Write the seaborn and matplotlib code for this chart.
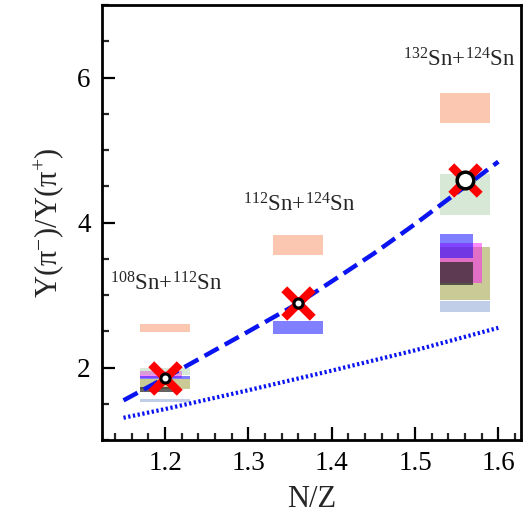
import numpy as np
import pandas as pd
import matplotlib
matplotlib.use("Agg")
import matplotlib.pyplot as plt
import seaborn as sns

# ---------------- data ----------------
systems = [r"$^{108}$Sn+$^{112}$Sn", r"$^{112}$Sn+$^{124}$Sn", r"$^{132}$Sn+$^{124}$Sn"]
nz = [1.20, 1.36, 1.56]
exp_ratio = [1.86, 2.89, 4.59]

dash_x = [1.15, 1.20, 1.25, 1.30, 1.36, 1.40, 1.45, 1.50, 1.55, 1.60]
dash_y = [1.55, 1.86, 2.18, 2.50, 2.89, 3.19, 3.57, 3.98, 4.41, 4.84]
dot_x = [1.15, 1.20, 1.30, 1.40, 1.50, 1.60]
dot_y = [1.31, 1.43, 1.69, 1.96, 2.24, 2.55]

# model bands: (N/Z, low, high)
band_lightblue = {"x": [1.20, 1.56], "lo": [1.53, 2.77], "hi": [1.57, 2.92]}
band_olive = {"x": [1.20, 1.56], "lo": [1.70, 2.94], "hi": [1.84, 3.67]}
band_magenta = {"x": [1.20, 1.56], "lo": [1.86, 3.17], "hi": [1.96, 3.72]}
band_blue = {"x": [1.20, 1.36, 1.56], "lo": [1.84, 2.47, 3.51], "hi": [1.89, 2.64, 3.84]}
band_green = {"x": [1.20, 1.56], "lo": [1.90, 4.11], "hi": [2.00, 4.67]}
band_dark = {"x": [1.20, 1.56], "lo": [1.67, 3.14], "hi": [1.73, 3.46]}
band_salmon = {"x": [1.20, 1.36, 1.56], "lo": [2.49, 3.56, 5.37], "hi": [2.60, 3.83, 5.79]}

# ---------------- style ----------------
sns.set_theme(style="ticks")
plt.rcParams["font.family"] = ["Liberation Serif", "DejaVu Serif"]
plt.rcParams["mathtext.fontset"] = "custom"
plt.rcParams["mathtext.rm"] = "Liberation Serif"
plt.rcParams["mathtext.it"] = "Liberation Serif:italic"

fig = plt.figure(figsize=(5.25, 5.26), dpi=100)
ax = fig.add_axes([0.194, 0.163, 0.798, 0.8275])

def draw_band(band, color, alpha, widths):
    for xi, lo, hi, w in zip(band["x"], band["lo"], band["hi"], widths):
        ax.bar(xi - 0.03, hi - lo, bottom=lo, width=w, align="edge",
               color=color, alpha=alpha, linewidth=0, zorder=1)

draw_band(band_lightblue, "#9fb4dc", 0.65, [0.06, 0.06])
draw_band(band_olive, "#a0a040", 0.55, [0.06, 0.06])
draw_band(band_magenta, "#ff00ff", 0.45, [0.05, 0.05])
draw_band(band_blue, "#0000ff", 0.5, [0.06, 0.06, 0.04])
draw_band(band_green, "#8fbf8f", 0.35, [0.06, 0.06])
draw_band(band_dark, "#2a2626", 0.72, [0.045, 0.04])
draw_band(band_salmon, "#f99a72", 0.55, [0.06, 0.06, 0.06])

df_dash = pd.DataFrame({"x": dash_x, "y": dash_y})
df_dot = pd.DataFrame({"x": dot_x, "y": dot_y})
sns.lineplot(data=df_dash, x="x", y="y", ax=ax, color="#0a14f0", lw=3.2,
             zorder=3).lines[-1].set_dashes([3.6, 1.6])
sns.lineplot(data=df_dot, x="x", y="y", ax=ax, color="#0a14f0", lw=3.0,
             zorder=3).lines[-1].set_dashes([0.55, 0.6])

df_exp = pd.DataFrame({"x": nz, "y": exp_ratio})
sns.scatterplot(data=df_exp, x="x", y="y", ax=ax, marker="x", s=420,
                color="red", linewidth=6, zorder=4)
ax.plot(nz[:2], exp_ratio[:2], "o", ms=6.5, mfc="white", mec="black",
        mew=2.2, zorder=5)
ax.plot(nz[2:], exp_ratio[2:], "o", ms=12, mfc="white", mec="black",
        mew=2.5, zorder=5)

ax.text(1.134, 3.16, systems[0], fontsize=16.5, va="center", ha="left")
ax.text(1.294, 4.24, systems[1], fontsize=16.5, va="center", ha="left")
ax.text(1.485, 6.25, systems[2], fontsize=16.5, va="center", ha="left")

ax.set_xlim(1.124, 1.627)
ax.set_ylim(1.0, 7.0)
ax.set_xticks([1.2, 1.3, 1.4, 1.5, 1.6])
ax.set_xticklabels(["1.2", "1.3", "1.4", "1.5", "1.6"])
ax.set_yticks([2, 4, 6])
ax.set_yticklabels(["2", "4", "6"])
ax.set_xticks(np.arange(1.14, 1.63, 0.02), minor=True)
ax.set_yticks(np.arange(1.0, 7.01, 0.5), minor=True)
ax.tick_params(which="major", direction="in", length=9.5, width=1.6,
               labelsize=19.5, pad=8, colors="black")
ax.tick_params(which="minor", direction="in", length=5, width=1.6)
for s in ax.spines.values():
    s.set_linewidth(2.0)
    s.set_color("black")

ax.set_xlabel("N/Z", fontsize=22, labelpad=6)
ax.set_ylabel("Y(π$^{-}$)/Y(π$^{+}$)", fontsize=22, labelpad=8)

fig.savefig("out.png", dpi=100)
